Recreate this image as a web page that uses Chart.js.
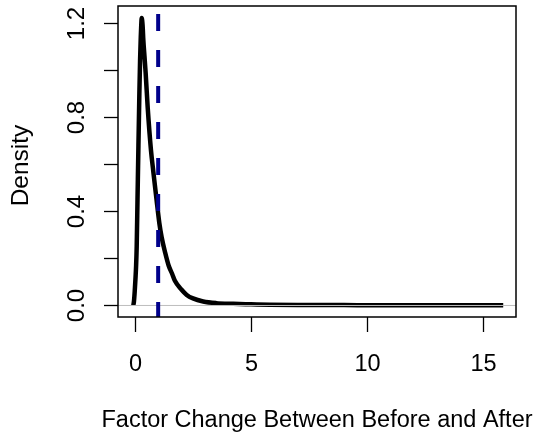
<!DOCTYPE html>
<html>
<head>
<meta charset="utf-8">
<script src="https://cdn.jsdelivr.net/npm/chart.js@4.4.1/dist/chart.umd.min.js"></script>
<style>
  html, body { margin: 0; padding: 0; background: #ffffff; }
  #wrap { width: 539px; height: 437px; position: relative; }
</style>
</head>
<body>
<div id="wrap"><canvas id="c" width="539" height="437"></canvas></div>
<script>
// ---- data ----
const densityX = [-0.07, -0.04, -0.01, 0.02, 0.05, 0.075, 0.11, 0.15, 0.19, 0.22, 0.25, 0.27, 0.29,
  0.33, 0.36, 0.41, 0.46, 0.55, 0.69, 0.79, 0.93, 1.05, 1.15, 1.30, 1.45, 1.60, 1.72, 2.0, 2.23,
  2.5, 2.94, 3.5, 4.23, 5.0, 5.81, 7.0, 8.0, 9.0, 10.0, 11.0, 12.0, 13.0, 14.0, 15.0, 15.86];
const densityY = [0.0, 0.02, 0.06, 0.11, 0.17, 0.25, 0.45, 0.68, 0.90, 1.04, 1.14, 1.19, 1.222,
  1.19, 1.13, 1.06, 0.99, 0.84, 0.66, 0.57, 0.45, 0.35, 0.29, 0.225, 0.17, 0.135, 0.105, 0.068, 0.045,
  0.03, 0.017, 0.010, 0.007, 0.005, 0.003, 0.002, 0.002, 0.0015, 0.0012, 0.001, 0.001, 0.0008, 0.0007, 0.0006, 0.0005];
const refLineX = 1;            // vertical dashed reference line
const xTicks = [0, 5, 10, 15];
const xTickLabels = ["0", "5", "10", "15"];
const yTicks = [0, 0.2, 0.4, 0.6, 0.8, 1.0, 1.2];
const yTickLabels = ["0.0", "", "0.4", "", "0.8", "", "1.2"];
const xTitle = "Factor Change Between Before and After";
const yTitle = "Density";
const xRange = [-0.73, 16.41];
const yRange = [-0.049, 1.2735];

const FONT = '"Liberation Sans", Arial, Helvetica, sans-serif';

const rAxes = {
  id: 'rAxes',
  afterDraw(chart) {
    const ctx = chart.ctx;
    const a = chart.chartArea;
    const xs = chart.scales.x, ys = chart.scales.y;
    ctx.save();
    ctx.strokeStyle = '#000';
    ctx.fillStyle = '#000';
    ctx.lineWidth = 1.5;
    ctx.strokeRect(a.left, a.top, a.right - a.left, a.bottom - a.top);
    // x ticks
    ctx.lineWidth = 1.3;
    ctx.font = '23.5px ' + FONT;
    ctx.textAlign = 'center';
    ctx.textBaseline = 'alphabetic';
    xTicks.forEach((v, i) => {
      const px = Math.round(xs.getPixelForValue(v)) + 0.5;
      ctx.beginPath();
      ctx.moveTo(px, a.bottom);
      ctx.lineTo(px, a.bottom + 15);
      ctx.stroke();
      ctx.fillText(xTickLabels[i], px, 371);
    });
    // y ticks
    ctx.font = '24px ' + FONT;
    yTicks.forEach((v, i) => {
      const py = Math.round(ys.getPixelForValue(v)) + 0.5;
      ctx.beginPath();
      ctx.moveTo(a.left, py);
      ctx.lineTo(a.left - 14, py);
      ctx.stroke();
      if (yTickLabels[i]) {
        ctx.save();
        ctx.translate(84, py);
        ctx.rotate(-Math.PI / 2);
        ctx.fillText(yTickLabels[i], 0, 0);
        ctx.restore();
      }
    });
    // titles
    ctx.font = '23.5px ' + FONT;
    ctx.fillText(xTitle, (a.left + a.right) / 2, 427);
    ctx.font = '24.5px ' + FONT;
    ctx.save();
    ctx.translate(28, (a.top + a.bottom) / 2 + 4);
    ctx.rotate(-Math.PI / 2);
    ctx.fillText(yTitle, 0, 0);
    ctx.restore();
    ctx.restore();
  }
};

new Chart(document.getElementById('c'), {
  type: 'line',
  data: {
    datasets: [
      {
        label: 'density',
        data: densityX.map((x, i) => ({ x: x, y: densityY[i] })),
        borderColor: '#000000',
        borderWidth: 4.5,
        pointRadius: 0,
        cubicInterpolationMode: 'monotone',
        fill: false,
        order: 2
      },
      {
        label: 'zero',
        data: [{ x: xRange[0], y: 0 }, { x: xRange[1], y: 0 }],
        borderColor: '#bebebe',
        borderWidth: 1,
        pointRadius: 0,
        fill: false,
        order: 1
      },
      {
        label: 'ref',
        data: [{ x: refLineX, y: yRange[1] }, { x: refLineX, y: yRange[0] }],
        borderColor: '#00008B',
        borderWidth: 4,
        borderDash: [17, 19],
        borderDashOffset: 28,
        pointRadius: 0,
        fill: false,
        order: 0
      }
    ]
  },
  options: {
    responsive: false,
    animation: false,
    devicePixelRatio: 1,
    layout: { padding: { left: 118, right: 23, top: 6, bottom: 120 } },
    plugins: { legend: { display: false }, tooltip: { enabled: false }, title: { display: false } },
    scales: {
      x: { type: 'linear', min: xRange[0], max: xRange[1], display: false },
      y: { type: 'linear', min: yRange[0], max: yRange[1], display: false }
    }
  },
  plugins: [rAxes]
});
</script>
</body>
</html>
